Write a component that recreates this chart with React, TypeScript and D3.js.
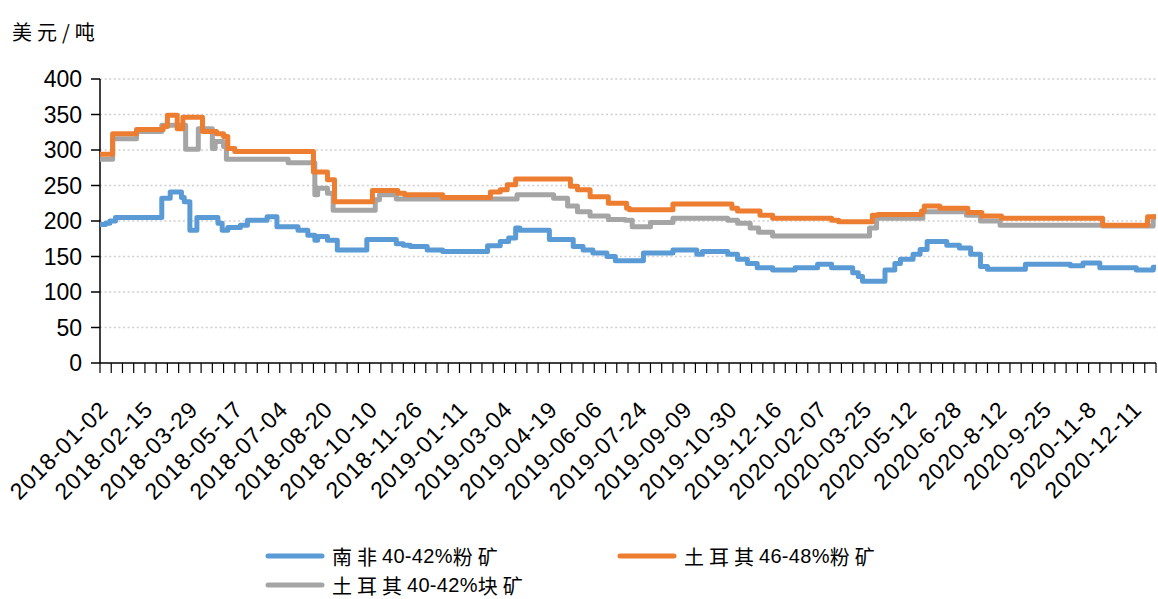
import React from 'react';
import * as d3 from 'd3';

// ---- data ----
const dateLabels = [
  '2018-01-02', '2018-02-15', '2018-03-29', '2018-05-17', '2018-07-04', '2018-08-20',
  '2018-10-10', '2018-11-26', '2019-01-11', '2019-03-04', '2019-04-19', '2019-06-06',
  '2019-07-24', '2019-09-09', '2019-10-30', '2019-12-16', '2020-02-07', '2020-03-25',
  '2020-05-12', '2020-6-28', '2020-8-12', '2020-9-25', '2020-11-8', '2020-12-11',
];
const LABEL_EVERY = 32; // data points between labels
const TICK_EVERY = 8; // data points between tick marks
const LAST_INDEX = 752; // index of last trading day

const yTicks = [0, 50, 100, 150, 200, 250, 300, 350, 400];

// [trading-day index, price] at each price change (USD/ton)
const southAfrica4042Fines: [number, number][] = [
  [0, 195], [4, 197], [7, 200], [11, 205], [44, 232], [50, 241], [58, 233], [60, 227],
  [64, 187], [69, 205], [84, 197], [87, 187], [91, 191], [100, 194], [105, 201], [119, 206],
  [126, 192], [141, 187], [148, 180], [153, 173], [155, 178], [162, 173], [169, 159],
  [190, 174], [211, 168], [216, 166], [221, 164], [233, 159], [244, 157], [276, 165],
  [285, 171], [291, 176], [296, 190], [299, 187], [320, 174], [337, 164], [344, 159],
  [351, 155], [361, 150], [367, 144], [387, 155], [408, 159], [425, 153], [429, 157],
  [447, 153], [454, 146], [461, 140], [468, 134], [479, 131], [495, 134], [511, 139],
  [521, 134], [536, 127], [540, 122], [543, 115], [559, 131], [566, 140], [570, 146],
  [579, 153], [584, 160], [589, 171], [603, 166], [612, 162], [620, 153], [627, 136],
  [632, 132], [659, 139], [691, 137], [700, 141], [712, 134], [738, 131], [750, 135],
];

const turkey4648Fines: [number, number][] = [
  [0, 294], [9, 323], [26, 329], [45, 333], [48, 349], [55, 330], [59, 346], [73, 326],
  [83, 323], [88, 319], [91, 302], [96, 298], [152, 269], [162, 258], [167, 227],
  [194, 243], [212, 239], [217, 237], [244, 233], [278, 241], [285, 244], [290, 251],
  [296, 259], [335, 249], [340, 244], [349, 234], [362, 225], [375, 218], [377, 216],
  [408, 224], [450, 218], [454, 214], [470, 208], [479, 204], [521, 201], [526, 199],
  [550, 208], [554, 209], [585, 214], [587, 221], [598, 218], [618, 212], [628, 207],
  [642, 204], [714, 194], [746, 206],
];

const turkey4042Lump: [number, number][] = [
  [0, 287], [9, 316], [26, 326], [44, 335], [61, 301], [70, 330], [80, 302], [82, 312],
  [88, 305], [90, 287], [134, 282], [153, 237], [155, 246], [162, 239], [166, 215],
  [196, 230], [199, 237], [211, 231], [297, 237], [323, 232], [333, 221], [340, 213],
  [349, 207], [362, 202], [374, 201], [379, 192], [392, 198], [408, 204], [447, 201],
  [454, 197], [463, 190], [469, 184], [479, 179], [548, 190], [553, 204], [586, 213],
  [617, 208], [627, 200], [641, 194], [714, 193], [750, 206],
];

const seriesNames = ['南非40-42%粉矿', '土耳其46-48%粉矿', '土耳其40-42%块矿'];
const seriesColors = ['#5B9BD5', '#ED7D31', '#A5A5A5'];
const unitLabel = '美元/吨';

// ---- layout ----
const W = 1158;
const H = 599;
const left = 100;
const right = 1156;
const top = 79;
const bottom = 363;

const numFont = '"Liberation Sans", Arial, "Noto Sans CJK SC", sans-serif';
const cjkFont = '"Noto Sans CJK SC", sans-serif';

// split text into CJK / non-CJK runs so the CJK glyphs can be spaced like the original
function runs(s: string) {
  const out: { t: string; cjk: boolean }[] = [];
  for (const ch of s) {
    const cjk = /[\u3000-\u9fff]/.test(ch);
    const last = out[out.length - 1];
    if (last && last.cjk === cjk) last.t += ch;
    else out.push({ t: ch, cjk });
  }
  return out;
}

function MixedText({ s, size, spacing }: { s: string; size: number; spacing: number }) {
  return (
    <>
      {runs(s).map((r, k) =>
        r.cjk ? (
          <tspan key={k} fontFamily={cjkFont} fontSize={size} letterSpacing={spacing}>
            {r.t}
          </tspan>
        ) : (
          <tspan key={k} fontFamily={numFont} fontSize={size} letterSpacing={0.3}>
            {r.t}
          </tspan>
        ),
      )}
    </>
  );
}

export default function App() {
  const x = d3.scaleLinear().domain([0, LAST_INDEX]).range([left, right]);
  const y = d3.scaleLinear().domain([0, 400]).range([bottom, top]);

  const line = d3
    .line<[number, number]>()
    .x((d) => x(d[0]))
    .y((d) => y(d[1]))
    .curve(d3.curveStepAfter);

  const all = [southAfrica4042Fines, turkey4648Fines, turkey4042Lump];
  const drawOrder = [2, 1, 0];

  const tickIdx = d3.range(0, LAST_INDEX + 1, TICK_EVERY);

  const legend = [
    { i: 0, lx: 268, ly: 556 },
    { i: 1, lx: 620, ly: 556 },
    { i: 2, lx: 268, ly: 585 },
  ];

  return (
    <svg
      width={W}
      height={H}
      style={{ position: 'absolute', left: 0, top: 0, background: '#fff' }}
    >
      <rect x={0} y={0} width={W} height={H} fill="#fff" />
      {/* unit */}
      <text x={12} y={31} dominantBaseline="central" fill="#000">
        <tspan fontFamily={cjkFont} fontSize={20} letterSpacing={5}>
          {unitLabel}
        </tspan>
      </text>

      {/* grid */}
      {yTicks
        .filter((t) => t > 0)
        .map((t) => (
          <line
            key={'g' + t}
            x1={left}
            x2={right}
            y1={y(t)}
            y2={y(t)}
            stroke="#CFCFCF"
            strokeWidth={1.3}
            strokeDasharray="2,2.6"
          />
        ))}

      {/* y axis */}
      <line x1={left} x2={left} y1={top} y2={bottom} stroke="#000" strokeWidth={1.5} />
      {yTicks.map((t) => (
        <g key={'y' + t}>
          <line x1={left - 9} x2={left} y1={y(t)} y2={y(t)} stroke="#000" strokeWidth={1.5} />
          <text
            x={82}
            y={y(t)}
            textAnchor="end"
            dominantBaseline="central"
            fontFamily={numFont}
            fontSize={23}
            fill="#000"
          >
            {t}
          </text>
        </g>
      ))}

      {/* x axis */}
      <line x1={left} x2={right} y1={bottom} y2={bottom} stroke="#000" strokeWidth={1.5} />
      {tickIdx.map((i) => (
        <line
          key={'t' + i}
          x1={x(i)}
          x2={x(i)}
          y1={bottom}
          y2={bottom + 10}
          stroke="#000"
          strokeWidth={1.2}
        />
      ))}
      {dateLabels.map((lab, k) => (
        <text
          key={lab}
          transform={`translate(${x(k * LABEL_EVERY) + 4},405) rotate(-45)`}
          textAnchor="end"
          dominantBaseline="central"
          fontFamily={numFont}
          fontSize={23}
          letterSpacing={1}
          fill="#000"
        >
          {lab}
        </text>
      ))}

      {/* series */}
      {drawOrder.map((si) => {
        const pts = all[si];
        const data: [number, number][] = [...pts, [LAST_INDEX, pts[pts.length - 1][1]]];
        return (
          <path
            key={'s' + si}
            d={line(data) || ''}
            fill="none"
            stroke={seriesColors[si]}
            strokeWidth={5}
            strokeLinejoin="round"
          />
        );
      })}

      {/* legend */}
      {legend.map((l) => (
        <g key={'l' + l.i}>
          <line
            x1={l.lx}
            x2={l.lx + 54}
            y1={l.ly}
            y2={l.ly}
            stroke={seriesColors[l.i]}
            strokeWidth={5}
            strokeLinecap="round"
          />
          <text x={l.lx + 64} y={l.ly} dominantBaseline="central" fill="#000">
            <MixedText s={seriesNames[l.i]} size={20} spacing={5} />
          </text>
        </g>
      ))}
    </svg>
  );
}
